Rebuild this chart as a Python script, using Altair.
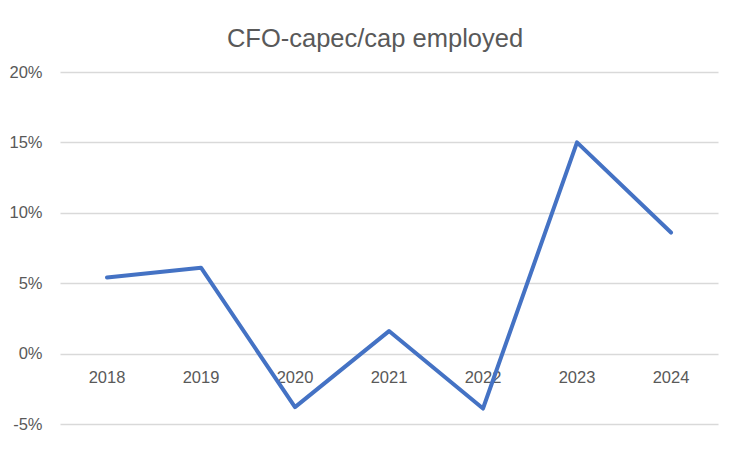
import altair as alt
import pandas as pd

years = ["2018", "2019", "2020", "2021", "2022", "2023", "2024"]
values = [0.054, 0.061, -0.038, 0.016, -0.039, 0.150, 0.086]
y_ticks = [-0.05, 0.0, 0.05, 0.10, 0.15, 0.20]

df = pd.DataFrame({"year": years, "value": values})

FONT = "Liberation Sans"
GREY = "#595959"

x_enc = alt.X("year:O", axis=None, sort=years)
y_scale = alt.Scale(domain=[-0.05, 0.20], nice=False, zero=False)

line = alt.Chart(df).mark_line(
    color="#4472C4", strokeWidth=4, strokeCap="round", strokeJoin="round"
).encode(
    x=x_enc,
    y=alt.Y(
        "value:Q",
        scale=y_scale,
        title=None,
        axis=alt.Axis(
            values=y_ticks,
            labelExpr="replace(format(datum.value, '.0%'), '\u2212', '-')",
            domain=False,
            ticks=False,
            grid=True,
            gridColor="#D9D9D9",
            gridWidth=1.5,
            labelPadding=18,
            labelFont=FONT,
            labelFontSize=16.5,
            labelColor=GREY,
        ),
    ),
)

labels = alt.Chart(df).mark_text(
    dy=24, baseline="middle", align="center", font=FONT, fontSize=16.5, color=GREY
).encode(
    x=x_enc,
    y=alt.datum(0),
    text="year:N",
)

chart = alt.layer(labels, line).properties(
    width=658,
    height=352,
    background="white",
    padding={"left": 52, "top": 64, "right": 26, "bottom": 22},
    autosize=alt.AutoSizeParams(type="none"),
    title=alt.TitleParams(
        "CFO-capec/cap employed",
        font=FONT,
        fontSize=25.5,
        fontWeight="normal",
        color=GREY,
        anchor="middle",
        dx=-14,
        dy=33,
        offset=25,
        baseline="alphabetic",
    ),
).configure_view(stroke=None)

chart.save("out.html", embed_options={"renderer": "svg", "actions": False})
